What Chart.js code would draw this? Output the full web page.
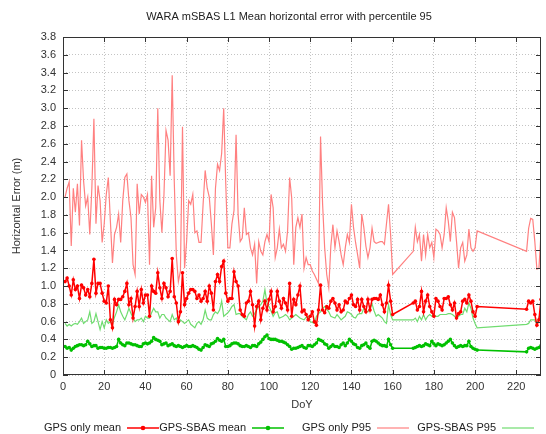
<!DOCTYPE html>
<html lang="en">

<head>
    <meta charset="UTF-8">
    <title>WARA mSBAS L1 Mean horizontal error</title>
    <script src="https://cdn.jsdelivr.net/npm/chart.js"></script>
    <style>
        html, body { margin: 0; padding: 0; background: #fff; }
        .chart_box { width: 546px; height: 434px; position: relative; }
    </style>
</head>

<body>
    <div class="chart_box"><canvas id="errorChart"></canvas></div>

    <script>
        // day of year, one point per day (gaps 161-169 and 202-224 have no data)
        const doy = [
            1, 2, 3, 4, 5, 6, 7, 8, 9, 10, 11, 12, 13, 14, 15, 16, 17, 18, 19, 20,
            21, 22, 23, 24, 25, 26, 27, 28, 29, 30, 31, 32, 33, 34, 35, 36, 37, 38, 39, 40,
            41, 42, 43, 44, 45, 46, 47, 48, 49, 50, 51, 52, 53, 54, 55, 56, 57, 58, 59, 60,
            61, 62, 63, 64, 65, 66, 67, 68, 69, 70, 71, 72, 73, 74, 75, 76, 77, 78, 79, 80,
            81, 82, 83, 84, 85, 86, 87, 88, 89, 90, 91, 92, 93, 94, 95, 96, 97, 98, 99, 100,
            101, 102, 103, 104, 105, 106, 107, 108, 109, 110, 111, 112, 113, 114, 115, 116, 117, 118, 119, 120,
            121, 122, 123, 124, 125, 126, 127, 128, 129, 130, 131, 132, 133, 134, 135, 136, 137, 138, 139, 140,
            141, 142, 143, 144, 145, 146, 147, 148, 149, 150, 151, 152, 153, 154, 155, 156, 157, 158, 159, 160,
            170, 171, 172, 173, 174, 175, 176, 177, 178, 179, 180, 181, 182, 183, 184, 185, 186, 187, 188, 189,
            190, 191, 192, 193, 194, 195, 196, 197, 198, 199, 200, 201,
            225, 226, 227, 228, 229, 230, 231, 232
        ];

        // GPS only mean (m)
        const gpsMean = [
            1.05, 1.09, 1.0, 0.9, 1.07, 0.96, 1.0, 0.86, 1.01, 0.98,
            0.9, 0.96, 0.88, 1.03, 1.3, 0.92, 1.03, 1.03, 0.92, 0.83,
            0.81, 1.0, 0.62, 0.53, 0.85, 0.79, 0.85, 0.85, 0.88, 0.94,
            1.03, 0.79, 0.86, 0.64, 0.77, 0.94, 0.77, 0.96, 0.81, 0.9,
            0.9, 0.66, 1.0, 0.94, 0.92, 1.15, 0.98, 0.86, 1.03, 0.98,
            0.88, 0.94, 1.31, 0.88, 0.81, 0.6, 0.71, 1.15, 0.79, 0.86,
            0.92, 0.96, 0.96, 0.94, 0.86, 0.9, 0.83, 0.86, 0.94, 0.83,
            1.0, 0.92, 0.73, 1.05, 1.13, 1.05, 1.22, 1.28, 0.92, 0.83,
            0.86, 0.86, 1.16, 1.05, 1.0, 0.73, 0.68, 0.66, 0.81, 0.83,
            0.94, 0.79, 0.55, 0.77, 0.83, 0.62, 0.75, 0.83, 0.73, 0.85,
            0.94, 0.71, 0.77, 0.94, 0.83, 0.75, 0.86, 0.81, 0.73, 1.03,
            0.66, 0.85, 0.79, 0.9, 1.0, 0.71, 0.73, 0.68, 0.62, 0.66,
            0.71, 0.6, 0.56, 0.73, 1.01, 0.73, 0.7, 0.77, 0.75, 0.83,
            0.86, 0.81, 0.73, 0.79, 0.71, 0.73, 0.83, 0.81, 0.86, 0.9,
            0.79, 0.77, 0.85, 0.73, 0.85, 0.77, 0.71, 0.85, 0.73, 0.85,
            0.86, 0.86, 0.85, 0.9, 0.79, 0.71, 0.81, 1.01, 0.83, 0.68,
            0.81, 0.83, 0.73, 0.77, 0.94, 0.71, 0.83, 0.9, 0.77, 0.71,
            0.66, 0.86, 0.83, 0.77, 0.73, 0.86, 0.86, 0.88, 0.79, 0.73,
            0.81, 0.64, 0.69, 0.71, 0.83, 0.85, 0.81, 0.9, 0.83, 0.71,
            0.66, 0.77,
            0.74, 0.83, 0.81, 0.83, 0.68, 0.56, 0.62, 0.85
        ];

        // GPS-SBAS mean (m)
        const sbasMean = [
            0.32, 0.3, 0.31, 0.28, 0.3, 0.32, 0.33, 0.34, 0.34, 0.33,
            0.34, 0.38, 0.35, 0.32, 0.33, 0.33, 0.3, 0.31, 0.31, 0.3,
            0.3, 0.31, 0.31, 0.3, 0.31, 0.32, 0.4, 0.36, 0.34, 0.33,
            0.36, 0.36, 0.35, 0.34, 0.34, 0.33, 0.32, 0.32, 0.35, 0.36,
            0.35, 0.36, 0.38, 0.42, 0.4, 0.39, 0.38, 0.34, 0.35, 0.36,
            0.33, 0.34, 0.35, 0.33, 0.32, 0.33, 0.32, 0.31, 0.32, 0.33,
            0.32, 0.32, 0.33, 0.32, 0.31, 0.29, 0.28, 0.31, 0.34, 0.33,
            0.32, 0.35, 0.36, 0.38, 0.41, 0.39, 0.38, 0.4, 0.32, 0.32,
            0.33, 0.35, 0.36, 0.36, 0.35, 0.33, 0.32, 0.32, 0.33, 0.32,
            0.31, 0.33, 0.33, 0.32, 0.35, 0.37, 0.4, 0.43, 0.45, 0.41,
            0.4, 0.4, 0.4, 0.39, 0.38, 0.38, 0.37, 0.36, 0.34, 0.32,
            0.29, 0.3, 0.3, 0.31, 0.32, 0.33, 0.31, 0.3, 0.33, 0.33,
            0.32, 0.34, 0.36, 0.4, 0.39, 0.38, 0.35, 0.34, 0.3, 0.32,
            0.34, 0.32, 0.32, 0.31, 0.34, 0.36, 0.33, 0.36, 0.4, 0.38,
            0.35, 0.34, 0.31, 0.3, 0.33, 0.34, 0.36, 0.32, 0.3, 0.38,
            0.39, 0.38, 0.36, 0.34, 0.33, 0.33, 0.32, 0.4, 0.34, 0.3,
            0.3, 0.31, 0.32, 0.33, 0.32, 0.33, 0.35, 0.34, 0.33, 0.38,
            0.35, 0.33, 0.35, 0.34, 0.33, 0.34, 0.36, 0.38, 0.4, 0.36,
            0.33, 0.31, 0.32, 0.33, 0.32, 0.33, 0.33, 0.38, 0.32, 0.3,
            0.29, 0.28,
            0.26, 0.3, 0.31, 0.3, 0.29, 0.3, 0.31, 0.33
        ];

        // GPS only 95th percentile (m)
        const gpsP95 = [
            2.0, 2.1, 2.17, 1.45, 2.1, 1.83, 2.15, 1.68, 2.64, 2.18,
            1.9, 2.0, 1.58, 2.1, 2.88, 1.7, 2.13, 1.96, 1.49, 1.7,
            2.03, 2.22, 1.73, 1.26, 1.58, 1.66, 1.81, 1.49, 1.96, 2.22,
            2.26, 1.96, 1.77, 1.24, 1.13, 2.15, 1.81, 2.03, 2.0, 1.94,
            2.03, 1.24, 2.24, 1.66, 1.88, 3.0, 1.96, 1.6, 2.03, 2.75,
            2.64, 2.24, 3.37, 2.18, 1.35, 1.05, 1.17, 2.79, 1.2, 1.5,
            1.96, 1.92, 2.03, 1.6, 1.62, 1.49, 1.49, 1.92, 2.3, 2.1,
            2.0, 1.7, 1.35, 2.1, 2.37, 2.3, 2.49, 3.0, 2.15, 1.43,
            1.43, 1.7, 1.85, 2.7, 1.8, 1.5, 1.54, 1.88, 1.58, 1.6,
            1.43, 1.35, 1.47, 1.03, 1.5, 1.39, 1.35, 1.5, 1.58, 1.5,
            2.03, 1.88, 1.32, 1.43, 1.64, 1.43, 1.47, 1.39, 1.62, 2.22,
            1.99, 1.24, 1.66, 1.77, 1.66, 1.81, 1.2, 1.32, 1.24, 1.24,
            1.17, 1.13, 1.08, 1.03, 2.68, 1.92, 1.43, 1.13, 0.98, 1.45,
            1.69, 1.43, 1.62, 1.5, 1.35, 1.24, 1.43, 1.58, 1.49, 1.92,
            1.66, 1.49, 1.35, 1.2, 1.81, 1.66, 1.45, 1.32, 1.43, 1.65,
            1.5, 1.48, 1.49, 1.5, 1.5, 1.47, 1.7, 1.92, 1.58, 1.13,
            1.39, 1.66, 1.5, 1.58, 1.28, 1.58, 1.35, 1.58, 1.43, 1.49,
            1.32, 1.64, 1.62, 1.58, 1.43, 1.58, 1.88, 1.73, 1.5, 1.83,
            1.77, 1.5, 1.2, 1.43, 1.49, 1.28, 1.35, 1.64, 1.43, 1.39,
            1.43, 1.62,
            1.39, 1.65, 1.76, 1.75, 1.5, 1.19, 1.2, 1.6
        ];

        // GPS-SBAS 95th percentile (m)
        const sbasP95 = [
            0.58, 0.55, 0.57, 0.55, 0.57, 0.58, 0.57, 0.6, 0.64, 0.58,
            0.6, 0.62, 0.71, 0.58, 0.6, 0.69, 0.6, 0.51, 0.6, 0.53,
            0.62, 0.58, 0.6, 0.57, 0.65, 0.71, 0.79, 0.71, 0.66, 0.62,
            0.68, 0.75, 0.69, 0.64, 0.6, 0.62, 0.62, 0.64, 0.6, 0.66,
            0.64, 0.64, 0.7, 0.75, 0.71, 0.71, 0.64, 0.68, 0.68, 0.64,
            0.62, 0.6, 0.68, 0.62, 0.64, 0.58, 0.62, 0.6, 0.58, 0.6,
            0.62, 0.57, 0.55, 0.53, 0.58, 0.6, 0.57, 0.62, 0.73, 0.64,
            0.62, 0.62, 0.68, 0.71, 0.69, 0.73, 0.83, 0.66, 0.68, 0.7,
            0.73, 0.77, 0.79, 0.68, 0.69, 0.69, 0.66, 0.64, 0.62, 0.68,
            0.71, 0.66, 0.69, 0.73, 0.77, 0.79, 0.83, 0.96, 0.81, 0.77,
            0.72, 0.66, 0.7, 0.71, 0.64, 0.65, 0.66, 0.68, 0.66, 0.62,
            0.64, 0.66, 0.68, 0.66, 0.64, 0.63, 0.62, 0.65, 0.66, 0.6,
            0.59, 0.58, 0.66, 0.69, 0.71, 0.75, 0.77, 0.74, 0.71, 0.66,
            0.65, 0.64, 0.68, 0.65, 0.62, 0.64, 0.66, 0.71, 0.7, 0.68,
            0.65, 0.64, 0.68, 0.69, 0.69, 0.75, 0.72, 0.71, 0.75, 0.8,
            0.72, 0.66, 0.68, 0.66, 0.64, 0.6, 0.58, 0.79, 0.68, 0.62,
            0.62, 0.64, 0.6, 0.66, 0.62, 0.68, 0.62, 0.66, 0.68, 0.66,
            0.68, 0.66, 0.66, 0.68, 0.68, 0.68, 0.68, 0.69, 0.69, 0.68,
            0.66, 0.64, 0.66, 0.68, 0.68, 0.75, 0.71, 0.81, 0.75, 0.64,
            0.58, 0.53,
            0.57, 0.58, 0.62, 0.62, 0.62, 0.57, 0.64, 0.72
        ];

        const seriesLabels = ['GPS only mean', 'GPS-SBAS mean', 'GPS only P95', 'GPS-SBAS P95'];
        const xTicks = [0, 20, 40, 60, 80, 100, 120, 140, 160, 180, 200, 220];
        const yTicks = [0, 0.2, 0.4, 0.6, 0.8, 1, 1.2, 1.4, 1.6, 1.8, 2, 2.2, 2.4, 2.6, 2.8, 3, 3.2, 3.4, 3.6, 3.8];
        const chartTitle = 'WARA mSBAS L1 Mean horizontal error with percentile 95';

        const FONT = '"Liberation Sans", Arial, sans-serif';

        // gnuplot look: closed frame with inward ticks, centered title, text-then-sample key
        const gnuplotDecor = {
            id: 'gnuplotDecor',
            afterDraw(chart) {
                const { ctx, chartArea: a, scales } = chart;
                ctx.save();

                ctx.strokeStyle = '#333';
                ctx.lineWidth = 1;
                ctx.strokeRect(Math.round(a.left) + 0.5, Math.round(a.top) + 0.5,
                    Math.round(a.width) - 1, Math.round(a.height) - 1);

                ctx.beginPath();
                xTicks.forEach(v => {
                    const px = Math.round(scales.x.getPixelForValue(v)) + 0.5;
                    ctx.moveTo(px, a.bottom); ctx.lineTo(px, a.bottom - 5);
                    ctx.moveTo(px, a.top); ctx.lineTo(px, a.top + 5);
                });
                yTicks.forEach(v => {
                    const py = Math.round(scales.y.getPixelForValue(v)) + 0.5;
                    ctx.moveTo(a.left, py); ctx.lineTo(a.left + 5, py);
                    ctx.moveTo(a.right, py); ctx.lineTo(a.right - 5, py);
                });
                ctx.stroke();

                ctx.fillStyle = '#222';
                ctx.font = '11px ' + FONT;
                ctx.textAlign = 'center';
                ctx.textBaseline = 'middle';
                ctx.fillText(chartTitle, 289, 17);

                // key along the bottom
                ctx.textAlign = 'right';
                chart.data.datasets.forEach((ds, i) => {
                    const right = 121 + i * 125;
                    const ky = 428;
                    ctx.fillStyle = '#222';
                    ctx.fillText(ds.label, right, ky);
                    ctx.strokeStyle = ds.borderColor;
                    ctx.lineWidth = ds.borderWidth;
                    ctx.beginPath();
                    ctx.moveTo(right + 6, ky);
                    ctx.lineTo(right + 38, ky);
                    ctx.stroke();
                    if (ds.pointRadius > 0) {
                        ctx.fillStyle = ds.borderColor;
                        ctx.beginPath();
                        ctx.arc(right + 22, ky, ds.pointRadius + 0.5, 0, Math.PI * 2);
                        ctx.fill();
                    }
                });

                ctx.restore();
            }
        };

        const ctx = document.getElementById('errorChart').getContext('2d');

        new Chart(ctx, {
            type: 'line',
            data: {
                labels: doy,
                datasets: [{
                    label: seriesLabels[0],
                    data: gpsMean,
                    borderColor: '#ff0000',
                    backgroundColor: '#ff0000',
                    borderWidth: 1.5,
                    pointRadius: 1.8,
                    pointBorderWidth: 0,
                    tension: 0
                }, {
                    label: seriesLabels[1],
                    data: sbasMean,
                    borderColor: '#00c000',
                    backgroundColor: '#00c000',
                    borderWidth: 1.5,
                    pointRadius: 1.8,
                    pointBorderWidth: 0,
                    tension: 0
                }, {
                    label: seriesLabels[2],
                    data: gpsP95,
                    borderColor: '#ff8080',
                    borderWidth: 1.2,
                    pointRadius: 0,
                    tension: 0
                }, {
                    label: seriesLabels[3],
                    data: sbasP95,
                    borderColor: '#70dc70',
                    borderWidth: 1.2,
                    pointRadius: 0,
                    tension: 0
                }]
            },
            options: {
                responsive: true,
                maintainAspectRatio: false,
                animation: false,
                layout: { padding: { top: 37, right: 5, bottom: 20, left: 0 } },
                scales: {
                    x: {
                        type: 'linear',
                        min: 0,
                        max: 232,
                        afterBuildTicks: s => { s.ticks = xTicks.map(v => ({ value: v })); },
                        afterFit: s => { s.height = 39; },
                        grid: { color: '#c4c4c4', drawTicks: false },
                        border: { display: false, dash: [1, 2] },
                        ticks: { color: '#333', padding: 5, maxRotation: 0, font: { family: FONT, size: 11 } },
                        title: { display: true, text: 'DoY', color: '#333', padding: { top: 2, bottom: 2 }, font: { family: FONT, size: 11 } }
                    },
                    y: {
                        min: 0,
                        max: 3.8,
                        afterBuildTicks: s => { s.ticks = yTicks.map(v => ({ value: v })); },
                        afterFit: s => { s.width = 63; },
                        grid: { color: '#c4c4c4', drawTicks: false },
                        border: { display: false, dash: [1, 2] },
                        ticks: { color: '#333', padding: 7, font: { family: FONT, size: 11 } },
                        title: { display: true, text: 'Horizontal Error (m)', color: '#333', padding: { top: 10, bottom: 0 }, font: { family: FONT, size: 11 } }
                    }
                },
                plugins: {
                    legend: { display: false },
                    title: { display: false },
                    tooltip: { enabled: false }
                }
            },
            plugins: [gnuplotDecor]
        });
    </script>
</body>

</html>
